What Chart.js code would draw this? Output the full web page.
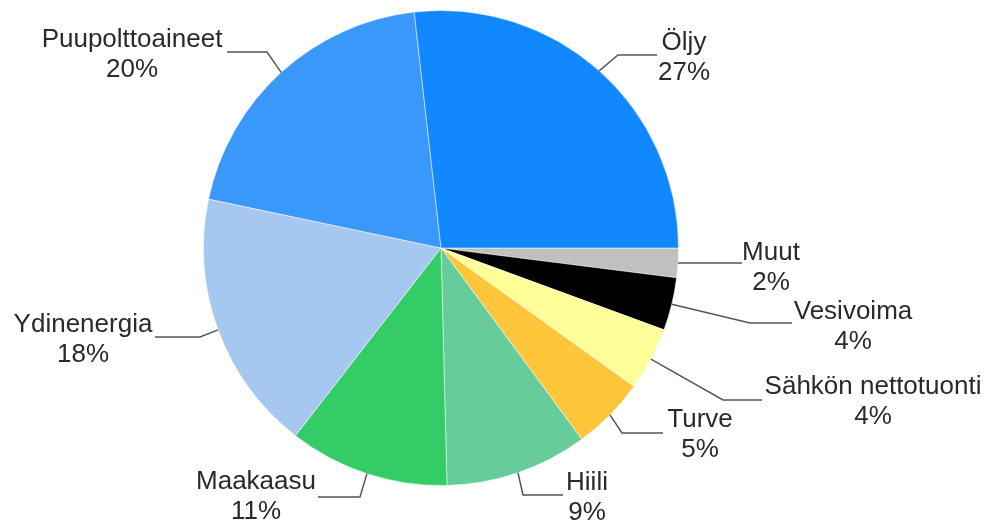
<!DOCTYPE html>
<html>
<head>
<meta charset="utf-8">
<script src="https://cdn.jsdelivr.net/npm/chart.js@4/dist/chart.umd.min.js"></script>
<style>
  html, body { margin: 0; padding: 0; background: #fff; }
  #wrap { width: 990px; height: 523px; position: relative; }
</style>
</head>
<body>
<div id="wrap"><canvas id="chart"></canvas></div>
<script>
// Energialähteet (osuudet kuvasta luettuna)
const categories = ['Öljy', 'Puupolttoaineet', 'Ydinenergia', 'Maakaasu', 'Hiili', 'Turve', 'Sähkön nettotuonti', 'Vesivoima', 'Muut'];
const shares = [26.8, 19.9, 17.8, 10.9, 9.7, 5.0, 4.3, 3.6, 2.0];
const shareLabels = ['27%', '20%', '18%', '11%', '9%', '5%', '4%', '4%', '2%'];
const colors = ['#1188ff', '#3a98fb', '#a6c8f0', '#33cc66', '#66cc99', '#ffc63c', '#ffff99', '#000000', '#c0c0c0'];

// Tekstien paikat suhteessa piirakan keskipisteeseen: [taitekohta, viivan pää, teksti]
const labelLayout = [
    { elbow: [177, -193], end: [216, -193], text: [243, -205] },
    { elbow: [-174, -196], end: [-214, -196], text: [-309, -208] },
    { elbow: [-241, 89], end: [-286, 89], text: [-358, 77] },
    { elbow: [-81, 249], end: [-123, 249], text: [-185, 234] },
    { elbow: [82, 247], end: [122, 247], text: [146, 235] },
    { elbow: [181, 185], end: [222, 185], text: [259, 172] },
    { elbow: [282, 152], end: [321, 152], text: [432, 139] },
    { elbow: [309, 75], end: [351, 75], text: [412, 64] },
    { elbow: [269, 15], end: [301, 15], text: [330, 5] }
];

// Chart.js piirtää myötäpäivään, kuvassa järjestys kulkee vastapäivään
const order = categories.map((_, i) => i).reverse();

// Selitetekstit ja viivat
const calloutPlugin = {
    id: 'callouts',
    afterDatasetsDraw(chart) {
        const ctx = chart.ctx;
        const meta = chart.getDatasetMeta(0);
        ctx.save();
        meta.data.forEach((arc, j) => {
            const i = order[j];
            const lay = labelLayout[i];
            const mid = (arc.startAngle + arc.endAngle) / 2;
            const sx = arc.x + Math.cos(mid) * arc.outerRadius;
            const sy = arc.y + Math.sin(mid) * arc.outerRadius;

            ctx.strokeStyle = '#555';
            ctx.lineWidth = 1.5;
            ctx.beginPath();
            ctx.moveTo(sx, sy);
            ctx.lineTo(arc.x + lay.elbow[0], arc.y + lay.elbow[1]);
            ctx.lineTo(arc.x + lay.end[0], arc.y + lay.end[1]);
            ctx.stroke();

            ctx.fillStyle = '#2a2a2a';
            ctx.font = '26px "Liberation Sans", Arial, sans-serif';
            ctx.textAlign = 'center';
            ctx.textBaseline = 'middle';
            const tx = arc.x + lay.text[0];
            const ty = arc.y + lay.text[1];
            ctx.fillText(categories[i], tx, ty);
            ctx.fillText(shareLabels[i], tx, ty + 30);
        });
        ctx.restore();
    }
};

document.addEventListener('DOMContentLoaded', () => {
    const ctx = document.getElementById('chart');
    new Chart(ctx, {
        type: 'pie',
        data: {
            labels: order.map(i => categories[i]),
            datasets: [{
                data: order.map(i => shares[i]),
                backgroundColor: order.map(i => colors[i]),
                borderColor: 'rgba(255,255,255,0.5)',
                borderWidth: 1
            }]
        },
        options: {
            responsive: true,
            maintainAspectRatio: false,
            animation: false,
            rotation: 90,
            layout: { padding: { left: 0, right: 108, top: 10, bottom: 37 } },
            plugins: {
                legend: { display: false },
                tooltip: { enabled: false }
            }
        },
        plugins: [calloutPlugin]
    });
});
</script>
</body>
</html>
